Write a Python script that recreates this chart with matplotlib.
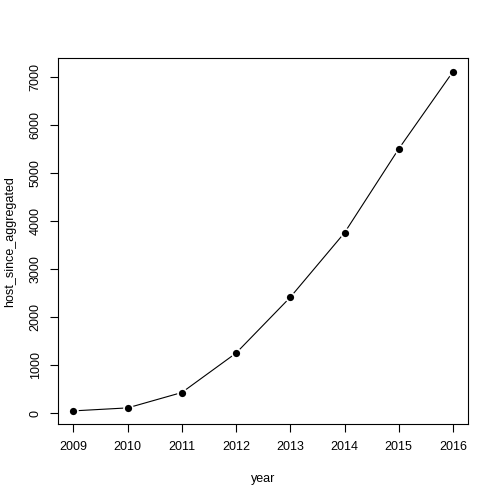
import matplotlib
matplotlib.use("Agg")
import matplotlib.pyplot as plt

years = [2009, 2010, 2011, 2012, 2013, 2014, 2015, 2016]
hosts = [49, 111, 431, 1251, 2412, 3753, 5498, 7103]
y_ticks = [0, 1000, 2000, 3000, 4000, 5000, 6000, 7000]

plt.rcParams['font.family'] = ['Liberation Sans', 'DejaVu Sans']

fig = plt.figure(figsize=(4.98, 4.97), dpi=100)
ax = fig.add_axes([0.117, 0.146, 0.823, 0.737])

# type = "b": line with gaps around the points
ax.plot(years, hosts, color='black', linewidth=0.8, zorder=1)
ax.plot(years, hosts, linestyle='none', marker='o', markersize=5.5,
        markerfacecolor='black', markeredgecolor='white', markeredgewidth=2.2, zorder=2)
ax.plot(years, hosts, linestyle='none', marker='o', markersize=5.2,
        markerfacecolor='black', markeredgecolor='black', markeredgewidth=0, zorder=3)

pad_x = (years[-1] - years[0]) * 0.04
pad_y = (max(hosts) - min(hosts)) * 0.04
ax.set_xlim(years[0] - pad_x, years[-1] + pad_x)
ax.set_ylim(min(hosts) - pad_y, max(hosts) + pad_y)

ax.set_xticks(years)
ax.set_xticklabels([str(y) for y in years], fontsize=9)
ax.set_yticks(y_ticks)
ax.set_yticklabels([str(t) for t in y_ticks], fontsize=9, rotation=90, va='center')
ax.tick_params(direction='out', length=6, width=0.8, pad=6)

for s in ax.spines.values():
    s.set_linewidth(0.8)

ax.set_xlabel('year', fontsize=9, labelpad=14)
ax.set_ylabel('host_since_aggregated', fontsize=9, labelpad=10)

fig.savefig('out.png', dpi=100)
